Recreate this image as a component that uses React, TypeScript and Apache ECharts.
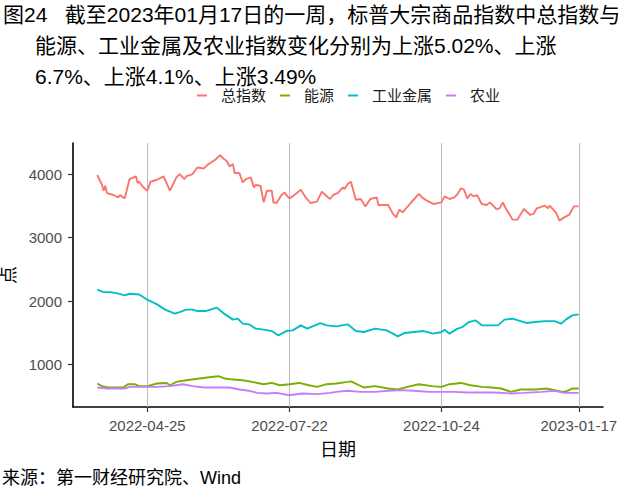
import React, { useEffect, useRef } from "react";
import * as echarts from "echarts";

const seriesNames = ["总指数", "能源", "工业金属", "农业"];
const seriesColors = ["#F8766D", "#7CAE00", "#00BFC4", "#C77CFF"];
const tickDates = ["2022-04-25", "2022-07-22", "2022-10-24", "2023-01-17"];
const yTicks = [1000, 2000, 3000, 4000];
const titleLines = [
  "图24   截至2023年01月17日的一周，标普大宗商品指数中总指数与",
  "能源、工业金属及农业指数变化分别为上涨5.02%、上涨",
  "6.7%、上涨4.1%、上涨3.49%",
];
const sourceText = "来源：第一财经研究院、Wind";

const totalIndex: [string, number][] = [
  ["2022-03-25", 3985], ["2022-03-28", 3827], ["2022-03-29", 3738], ["2022-03-30", 3816], ["2022-03-31", 3700],
  ["2022-04-04", 3670], ["2022-04-07", 3632], ["2022-04-08", 3670], ["2022-04-11", 3617], ["2022-04-14", 3921],
  ["2022-04-18", 3962], ["2022-04-19", 3859], ["2022-04-20", 3879], ["2022-04-22", 3805], ["2022-04-25", 3738],
  ["2022-04-27", 3879], ["2022-05-01", 3910], ["2022-05-05", 3962], ["2022-05-09", 3738], ["2022-05-13", 3947],
  ["2022-05-15", 4000], ["2022-05-18", 3921], ["2022-05-19", 3962], ["2022-05-23", 4000], ["2022-05-26", 4104],
  ["2022-05-30", 4088], ["2022-06-01", 4141], ["2022-06-06", 4225], ["2022-06-09", 4298], ["2022-06-11", 4245],
  ["2022-06-13", 4209], ["2022-06-15", 4119], ["2022-06-17", 4157], ["2022-06-18", 4016], ["2022-06-21", 4016],
  ["2022-06-23", 3868], ["2022-06-25", 3921], ["2022-06-28", 3947], ["2022-06-30", 3790], ["2022-07-01", 3827],
  ["2022-07-04", 3816], ["2022-07-06", 3554], ["2022-07-08", 3738], ["2022-07-11", 3738], ["2022-07-12", 3554],
  ["2022-07-14", 3544], ["2022-07-17", 3670], ["2022-07-19", 3711], ["2022-07-20", 3670], ["2022-07-22", 3617],
  ["2022-07-25", 3670], ["2022-07-29", 3753], ["2022-08-01", 3632], ["2022-08-04", 3544], ["2022-08-08", 3565],
  ["2022-08-11", 3722], ["2022-08-16", 3607], ["2022-08-18", 3670], ["2022-08-21", 3702], ["2022-08-24", 3790],
  ["2022-08-25", 3764], ["2022-08-27", 3843], ["2022-08-29", 3879], ["2022-09-01", 3596], ["2022-09-04", 3607],
  ["2022-09-07", 3491], ["2022-09-10", 3607], ["2022-09-14", 3632], ["2022-09-15", 3513], ["2022-09-21", 3513],
  ["2022-09-24", 3372], ["2022-09-26", 3318], ["2022-09-28", 3439], ["2022-09-30", 3397], ["2022-10-05", 3544],
  ["2022-10-10", 3686], ["2022-10-12", 3632], ["2022-10-15", 3581], ["2022-10-19", 3529], ["2022-10-24", 3554],
  ["2022-10-26", 3648], ["2022-10-29", 3607], ["2022-11-01", 3632], ["2022-11-03", 3686], ["2022-11-05", 3774],
  ["2022-11-07", 3753], ["2022-11-09", 3617], ["2022-11-11", 3686], ["2022-11-13", 3648], ["2022-11-15", 3670],
  ["2022-11-18", 3529], ["2022-11-21", 3513], ["2022-11-23", 3554], ["2022-11-27", 3450], ["2022-11-29", 3460],
  ["2022-12-01", 3554], ["2022-12-03", 3450], ["2022-12-05", 3372], ["2022-12-07", 3282], ["2022-12-10", 3282],
  ["2022-12-14", 3450], ["2022-12-18", 3356], ["2022-12-20", 3372], ["2022-12-22", 3460], ["2022-12-24", 3476],
  ["2022-12-27", 3502], ["2022-12-29", 3460], ["2022-12-30", 3502], ["2023-01-03", 3387], ["2023-01-05", 3266],
  ["2023-01-08", 3318], ["2023-01-11", 3356], ["2023-01-14", 3491], ["2023-01-17", 3491],
];

const energyIndex: [string, number][] = [
  ["2022-03-25", 701], ["2022-03-28", 659], ["2022-04-01", 638], ["2022-04-06", 638], ["2022-04-10", 638],
  ["2022-04-13", 690], ["2022-04-17", 690], ["2022-04-20", 659], ["2022-04-25", 659], ["2022-05-01", 701],
  ["2022-05-07", 710], ["2022-05-09", 674], ["2022-05-13", 726], ["2022-05-19", 753], ["2022-05-25", 773],
  ["2022-06-01", 795], ["2022-06-08", 816], ["2022-06-12", 779], ["2022-06-17", 763], ["2022-06-23", 753],
  ["2022-06-29", 726], ["2022-07-06", 690], ["2022-07-11", 710], ["2022-07-16", 674], ["2022-07-22", 690],
  ["2022-07-28", 710], ["2022-08-03", 674], ["2022-08-08", 648], ["2022-08-14", 690], ["2022-08-20", 701],
  ["2022-08-27", 726], ["2022-08-29", 735], ["2022-09-06", 638], ["2022-09-13", 659], ["2022-09-21", 622],
  ["2022-09-27", 607], ["2022-10-03", 648], ["2022-10-10", 690], ["2022-10-18", 659], ["2022-10-24", 648],
  ["2022-10-29", 690], ["2022-11-05", 710], ["2022-11-11", 674], ["2022-11-18", 648], ["2022-11-24", 638],
  ["2022-11-30", 622], ["2022-12-06", 570], ["2022-12-12", 607], ["2022-12-21", 607], ["2022-12-28", 622],
  ["2023-01-02", 596], ["2023-01-07", 570], ["2023-01-10", 586], ["2023-01-13", 622], ["2023-01-17", 622],
];

const metalsIndex: [string, number][] = [
  ["2022-03-25", 2178], ["2022-03-29", 2140], ["2022-04-02", 2140], ["2022-04-06", 2124], ["2022-04-11", 2088],
  ["2022-04-14", 2115], ["2022-04-20", 2104], ["2022-04-25", 2021], ["2022-05-01", 1947], ["2022-05-06", 1864],
  ["2022-05-12", 1801], ["2022-05-15", 1826], ["2022-05-19", 1864], ["2022-05-23", 1864], ["2022-05-26", 1842],
  ["2022-05-31", 1842], ["2022-06-07", 1895], ["2022-06-11", 1810], ["2022-06-17", 1707], ["2022-06-20", 1722],
  ["2022-06-23", 1644], ["2022-06-27", 1633], ["2022-07-01", 1565], ["2022-07-06", 1549], ["2022-07-11", 1527],
  ["2022-07-15", 1460], ["2022-07-20", 1527], ["2022-07-24", 1538], ["2022-07-29", 1617], ["2022-08-02", 1565],
  ["2022-08-10", 1653], ["2022-08-14", 1617], ["2022-08-20", 1601], ["2022-08-27", 1633], ["2022-09-01", 1527],
  ["2022-09-06", 1512], ["2022-09-13", 1565], ["2022-09-20", 1538], ["2022-09-24", 1486], ["2022-09-27", 1444],
  ["2022-10-01", 1496], ["2022-10-07", 1512], ["2022-10-13", 1527], ["2022-10-19", 1486], ["2022-10-24", 1512],
  ["2022-10-26", 1549], ["2022-10-29", 1486], ["2022-11-03", 1565], ["2022-11-06", 1590], ["2022-11-10", 1669],
  ["2022-11-14", 1696], ["2022-11-18", 1617], ["2022-11-22", 1617], ["2022-11-28", 1617], ["2022-12-02", 1707],
  ["2022-12-07", 1722], ["2022-12-12", 1684], ["2022-12-16", 1653], ["2022-12-21", 1669], ["2022-12-27", 1684],
  ["2023-01-02", 1684], ["2023-01-06", 1643], ["2023-01-09", 1707], ["2023-01-13", 1774], ["2023-01-17", 1790],
];

const agriIndex: [string, number][] = [
  ["2022-03-25", 638], ["2022-03-31", 622], ["2022-04-06", 622], ["2022-04-11", 622], ["2022-04-14", 648],
  ["2022-04-20", 648], ["2022-04-25", 648], ["2022-05-01", 648], ["2022-05-09", 659], ["2022-05-17", 690],
  ["2022-05-23", 659], ["2022-05-30", 638], ["2022-06-07", 638], ["2022-06-15", 638], ["2022-06-21", 607],
  ["2022-06-27", 586], ["2022-07-02", 554], ["2022-07-08", 544], ["2022-07-14", 554], ["2022-07-22", 517],
  ["2022-07-30", 544], ["2022-08-08", 533], ["2022-08-16", 554], ["2022-08-20", 570], ["2022-08-27", 586],
  ["2022-09-04", 570], ["2022-09-13", 570], ["2022-09-21", 586], ["2022-09-29", 596], ["2022-10-07", 586],
  ["2022-10-16", 570], ["2022-10-24", 570], ["2022-11-01", 570], ["2022-11-09", 560], ["2022-11-18", 560],
  ["2022-11-26", 560], ["2022-12-06", 544], ["2022-12-14", 554], ["2022-12-25", 570], ["2023-01-02", 586],
  ["2023-01-08", 554], ["2023-01-17", 554],
];

const seriesData = [totalIndex, energyIndex, metalsIndex, agriIndex];

const FONT = "'Liberation Sans', 'Noto Sans CJK SC', sans-serif";
const toTs = (s: string) => Date.UTC(+s.slice(0, 4), +s.slice(5, 7) - 1, +s.slice(8, 10));
const fmtDate = (v: number) => new Date(v).toISOString().slice(0, 10);

export default function App() {
  const ref = useRef<HTMLDivElement>(null);
  useEffect(() => {
    if (!ref.current) return;
    const chart = echarts.init(ref.current, null, { renderer: "svg" });
    const tickTs = tickDates.map(toTs);
    const option: any = {
      animation: false,
      backgroundColor: "#fff",
      textStyle: { fontFamily: FONT },
      grid: { left: 73, right: 37, top: 143, bottom: 91, containLabel: false, outerBoundsMode: "none" },
      legend: {
        data: seriesNames,
        left: 192,
        top: 83,
        icon: "rect",
        itemWidth: 10,
        itemHeight: 2,
        itemGap: 14,
        selectedMode: false,
        textStyle: { fontSize: 15, color: "#1a1a1a", fontFamily: FONT, padding: [0, 0, 0, 9] },
      },
      xAxis: {
        type: "value",
        min: toTs("2022-03-10"),
        max: toTs("2023-02-01"),
        name: "日期",
        nameLocation: "middle",
        nameGap: 34,
        nameTextStyle: { fontSize: 18, color: "#000", fontFamily: FONT },
        axisLine: { show: true, onZero: false, lineStyle: { color: "#000", width: 1.6 } },
        axisTick: { show: true, customValues: tickTs, length: 5, lineStyle: { color: "#333", width: 1.2 } },
        axisLabel: {
          customValues: tickTs,
          margin: 11,
          fontSize: 15,
          color: "#4d4d4d",
          fontFamily: FONT,
          formatter: (v: number) => fmtDate(v),
        },
        splitLine: { show: false },
      },
      yAxis: {
        type: "value",
        min: 331,
        max: 4489,
        name: "点",
        nameLocation: "middle",
        nameGap: 49,
        nameRotate: 90,
        nameTextStyle: { fontSize: 18, color: "#000", fontFamily: FONT },
        axisLine: { show: true, onZero: false, lineStyle: { color: "#000", width: 1.6 } },
        axisTick: { show: true, customValues: yTicks, length: 5, lineStyle: { color: "#333", width: 1.2 } },
        axisLabel: {
          customValues: yTicks,
          margin: 11,
          fontSize: 15,
          color: "#4d4d4d",
          fontFamily: FONT,
          formatter: (v: number) => String(v),
        },
        splitLine: { show: false },
      },
      series: seriesNames.map((name, i) => ({
        name,
        type: "line",
        data: seriesData[i].map(([d, v]) => [toTs(d), v]),
        showSymbol: false,
        symbol: "none",
        color: seriesColors[i],
        lineStyle: { color: seriesColors[i], width: 1.9 },
        emphasis: { disabled: true },
        z: 3,
        markLine:
          i === 0
            ? {
                silent: true,
                symbol: ["none", "none"],
                label: { show: false },
                z: 1,
                lineStyle: { color: "#bdbdbd", width: 1, type: "solid" },
                data: tickTs.map((t) => ({ xAxis: t })),
              }
            : undefined,
      })),
      graphic: [
        ...titleLines.map((t, i) => ({
          type: "text",
          x: i === 0 ? 3 : 35,
          y: 14 + i * 31,
          style: { text: t, fontSize: 21, fontFamily: FONT, fill: "#000", verticalAlign: "middle" },
        })),
        {
          type: "text",
          x: 2,
          y: 478,
          style: { text: sourceText, fontSize: 18, fontFamily: FONT, fill: "#000", verticalAlign: "middle" },
        },
      ],
    };
    chart.setOption(option);
    return () => chart.dispose();
  }, []);
  return <div ref={ref} style={{ width: 640, height: 498, position: "absolute", left: 0, top: 0 }} />;
}
